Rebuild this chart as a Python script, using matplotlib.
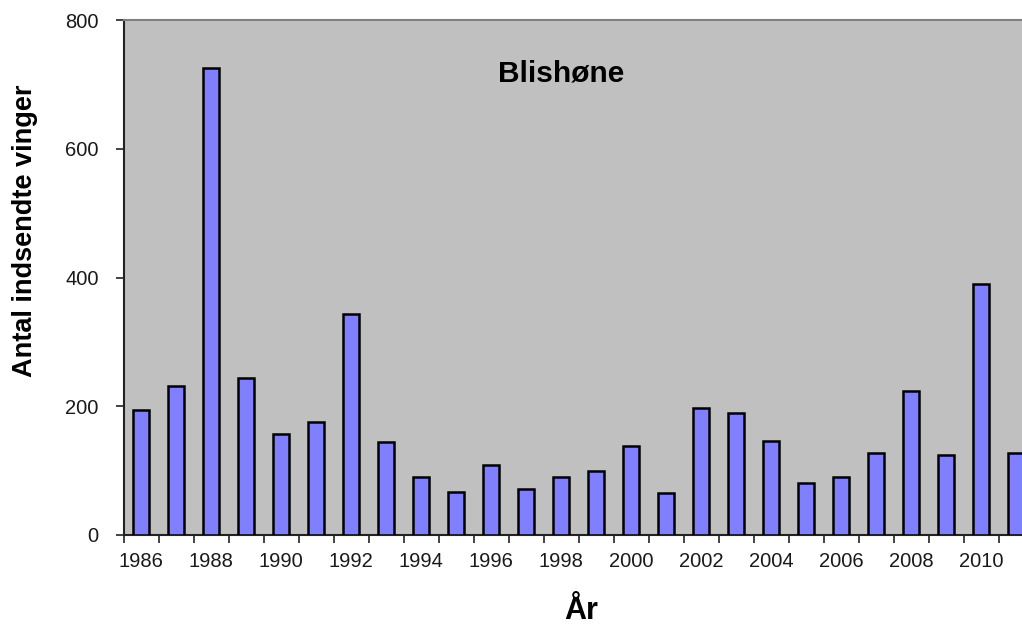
import matplotlib
matplotlib.use("Agg")
import matplotlib.pyplot as plt
from matplotlib.ticker import FixedLocator, NullFormatter, FixedFormatter

plt.rcParams['font.family'] = ['Liberation Sans', 'DejaVu Sans']

years = list(range(1986, 2012))
values = [194, 232, 725, 244, 157, 176, 344, 144, 90, 67, 108, 71, 90, 99,
          139, 65, 198, 190, 146, 81, 90, 127, 224, 125, 390, 128]
y_ticks = [0, 200, 400, 600, 800]
title = "Blishøne"
xlabel = "År"
ylabel = "Antal indsendte vinger"

fig = plt.figure(figsize=(10.22, 6.28), dpi=100)
ax = fig.add_axes([123.5 / 1022, (628 - 535) / 628, (1022 - 123.5) / 1022, 515 / 628])
ax.set_facecolor('#C0C0C0')

pos = list(range(len(years)))
ax.bar(pos, values, width=0.43, color='#8080FF', edgecolor='black', linewidth=1.8, zorder=3)

ax.set_xlim(-0.5, -0.5 + 898.5 / 35)
ax.set_ylim(0, 800)

# y axis
ax.set_yticks(y_ticks)
ax.set_yticklabels([str(v) for v in y_ticks])
ax.tick_params(axis='y', direction='out', length=6, width=1.2, color='#222222',
               labelsize=14.5, pad=12, labelcolor='#1a1a1a')

# x axis: ticks at category boundaries, labels at centers of even years
ax.xaxis.set_major_locator(FixedLocator([p - 0.5 for p in pos] + [len(pos) - 0.5]))
ax.xaxis.set_major_formatter(NullFormatter())
lab_pos = [p for p, y in zip(pos, years) if y % 2 == 0]
ax.xaxis.set_minor_locator(FixedLocator(lab_pos))
ax.xaxis.set_minor_formatter(FixedFormatter([str(years[p]) for p in lab_pos]))
ax.tick_params(axis='x', which='major', direction='out', length=6, width=1.2, color='#222222')
ax.tick_params(axis='x', which='minor', length=0, labelsize=14.5, pad=12, labelcolor='#1a1a1a')

for side in ['left', 'bottom']:
    ax.spines[side].set_color('#222222')
    ax.spines[side].set_linewidth(1.5)
ax.spines['top'].set_color('#808080')
ax.spines['top'].set_linewidth(1.5)
ax.spines['right'].set_visible(False)

fig.text(561 / 1022, 1 - 73 / 628, title, fontsize=21.5, fontweight='bold',
         ha='center', va='center')
fig.text(581 / 1022, 1 - 611 / 628, xlabel, fontsize=22, fontweight='bold',
         ha='center', va='center')
fig.text(25 / 1022, 1 - 231 / 628, ylabel, fontsize=19.5, fontweight='bold',
         ha='center', va='center', rotation=90)

fig.savefig('out.png', dpi=100, facecolor='white')
